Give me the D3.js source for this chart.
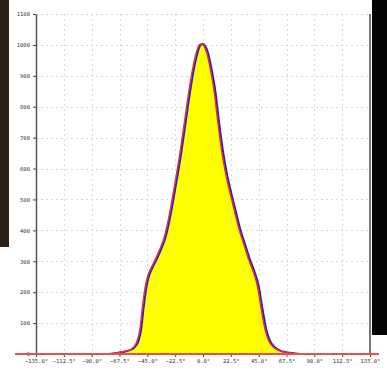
<!DOCTYPE html>
<html>
<head>
<meta charset="utf-8">
<script src="https://cdn.jsdelivr.net/npm/d3@7"></script>
<style>
  body { margin: 0; background: #fff; }
  .tick text { font-family: "DejaVu Sans Mono", monospace; font-size: 5.5px; fill: #333; }
</style>
</head>
<body>
<svg id="chart"></svg>
<script>
// tick values
const xTicks = [-135, -112.5, -90, -67.5, -45, -22.5, 0, 22.5, 45, 67.5, 90, 112.5, 135];
const yTicks = [0, 100, 200, 300, 400, 500, 600, 700, 800, 900, 1000, 1100];

// blue measured curve (angle in degrees, count)
const blueAngles = [-77, -72, -67, -62, -57, -54, -52, -50, -48, -46, -44, -41, -38, -34, -30, -26, -22, -18, -14, -10, -7, -4, -2, 0, 2, 4, 7, 10, 13, 16, 19, 22, 26, 30, 34, 38, 42, 45, 48, 51, 54, 58, 62, 68, 74, 78];
const blueValues = [0, 2, 5, 9, 16, 28, 45, 80, 150, 210, 248, 278, 302, 338, 382, 455, 545, 640, 750, 860, 930, 980, 1000, 1003, 995, 975, 920, 850, 750, 660, 590, 535, 470, 405, 355, 305, 262, 220, 148, 82, 44, 22, 12, 5, 2, 0];

// red fitted curve
const redAngles = [-152, -135, -100, -80, -73, -68, -63, -58, -55, -53, -51, -49, -47, -45, -42, -39, -35, -31, -27, -23, -19, -15, -11, -8, -5, -3, -1, 1, 3, 6, 9, 12, 15, 18, 21, 25, 29, 33, 37, 41, 44, 47, 50, 53, 57, 61, 67, 75, 90, 142];
const redValues = [0, 0, 0, 0, 2, 5, 9, 16, 28, 45, 80, 150, 210, 248, 278, 302, 338, 382, 455, 545, 640, 750, 860, 930, 980, 1000, 1003, 995, 975, 920, 850, 750, 660, 590, 535, 470, 405, 355, 305, 262, 220, 148, 82, 44, 22, 12, 5, 2, 0, 0];

const W = 387, H = 370;
const margin = { top: 14, left: 36, right: 17, bottom: 16 };

const svg = d3.select("#chart").attr("width", W).attr("height", H);

// screenshot edges
svg.append("rect").attr("x", 0).attr("y", 0).attr("width", 9).attr("height", 247).attr("fill", "#2a2018");
svg.append("rect").attr("x", 372).attr("y", 0).attr("width", 15).attr("height", 335).attr("fill", "#050505");

const x = d3.scaleLinear().domain([-135, 135]).range([margin.left, W - margin.right]);
const y = d3.scaleLinear().domain([0, 1100]).range([H - margin.bottom, margin.top]);

// grid
const grid = svg.append("g").attr("stroke", "#d9d9d9").attr("stroke-dasharray", "2,3").attr("stroke-width", 1);
grid.selectAll("line.v")
  .data(xTicks.slice(1, -1))
  .join("line")
  .attr("x1", (d) => Math.round(x(d)) + 0.5).attr("x2", (d) => Math.round(x(d)) + 0.5)
  .attr("y1", y(1100)).attr("y2", y(0));
grid.selectAll("line.h")
  .data(yTicks.slice(1))
  .join("line")
  .attr("x1", x(-135)).attr("x2", x(135))
  .attr("y1", (d) => Math.round(y(d)) + 0.5).attr("y2", (d) => Math.round(y(d)) + 0.5);

// right frame
svg.append("line")
  .attr("x1", x(135)).attr("x2", x(135))
  .attr("y1", y(1100)).attr("y2", y(0))
  .attr("stroke", "#777").attr("stroke-width", 2);

// filled area under blue curve
const blueData = blueAngles.map((a, i) => [a, blueValues[i]]);
const redData = redAngles.map((a, i) => [a, redValues[i]]);

const area = d3.area()
  .x((d) => x(d[0])).y0(y(0)).y1((d) => y(d[1]))
  .curve(d3.curveMonotoneX);
const line = d3.line()
  .x((d) => x(d[0])).y((d) => y(d[1]))
  .curve(d3.curveMonotoneX);

svg.append("path").datum(blueData).attr("d", area).attr("fill", "#ffff00");
svg.append("path").datum(blueData).attr("d", line)
  .attr("fill", "none").attr("stroke", "#2020d0").attr("stroke-width", 2);
svg.append("path").datum(redData).attr("d", line)
  .attr("fill", "none").attr("stroke", "#e83030").attr("stroke-width", 1.5);

// axes
const xaxis = d3.axisBottom(x).tickValues(xTicks)
  .tickFormat((d) => d3.format(".1f")(d) + "°").tickSize(3).tickSizeOuter(0);
const g_xaxis = svg.append("g").attr("transform", `translate(0,${y(0)})`).call(xaxis);
g_xaxis.select(".domain").remove();
g_xaxis.selectAll(".tick line").attr("stroke", "#444");
g_xaxis.selectAll(".tick text").attr("dy", "0.9em").attr("y", 4);

const yaxis = d3.axisLeft(y).tickValues(yTicks).tickFormat(d3.format("d")).tickSize(3).tickSizeOuter(0);
const g_yaxis = svg.append("g").attr("transform", `translate(${x(-135)},0)`).call(yaxis);
g_yaxis.select(".domain").attr("stroke", "#555").attr("stroke-width", 1.5);
g_yaxis.selectAll(".tick line").attr("stroke", "#444");

// red baseline across the whole width
svg.append("line")
  .attr("x1", 15).attr("x2", 379)
  .attr("y1", y(0)).attr("y2", y(0))
  .attr("stroke", "#e85050").attr("stroke-width", 2);
</script>
</body>
</html>
